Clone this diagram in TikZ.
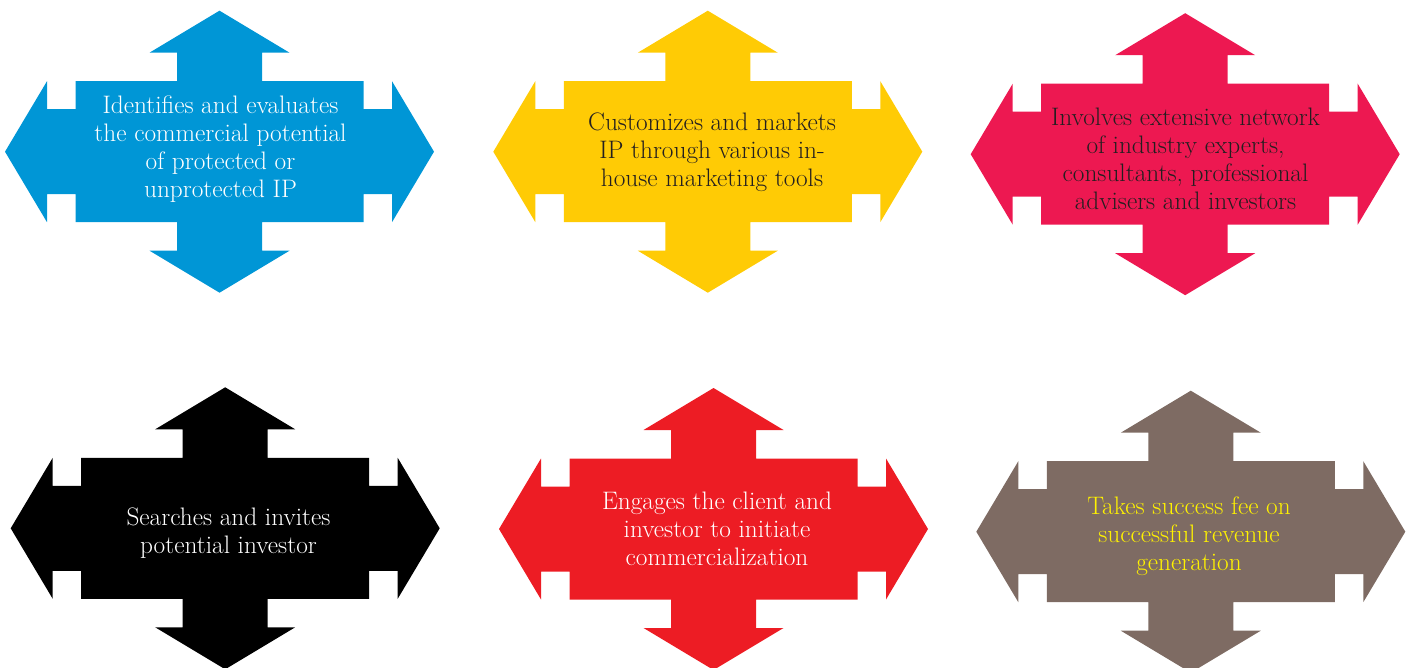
\documentclass[tikz,border=0pt]{standalone}
\usepackage{tikz}
\definecolor{cblue}{RGB}{0,150,214}
\definecolor{cyellow}{RGB}{255,203,5}
\definecolor{cpink}{RGB}{237,24,81}
\definecolor{cblack}{RGB}{0,0,0}
\definecolor{cred}{RGB}{237,28,36}
\definecolor{cbrown}{RGB}{126,107,99}
\definecolor{cdark}{RGB}{35,31,32}
\definecolor{ctxtyellow}{RGB}{255,242,0}
\newcommand{\qarrow}[3]{%
  \begin{scope}[shift={(#1,#2)}]
  \fill[#3] (0,-141) -- (70,-99) -- (42.5,-99) -- (42.5,-70.5) -- (144,-70.5)
    -- (144,-42.5) -- (172.5,-42.5) -- (172.5,-70.5) -- (214.5,0)
    -- (172.5,70.5) -- (172.5,42.5) -- (144,42.5) -- (144,70.5)
    -- (42.5,70.5) -- (42.5,99) -- (70,99) -- (0,141) -- (-70,99)
    -- (-42.5,99) -- (-42.5,70.5) -- (-144,70.5) -- (-144,42.5)
    -- (-172.5,42.5) -- (-172.5,70.5) -- (-214.5,0) -- (-172.5,-70.5)
    -- (-172.5,-42.5) -- (-144,-42.5) -- (-144,-70.5) -- (-42.5,-70.5)
    -- (-42.5,-99) -- (-70,-99) -- cycle;
  \end{scope}}
\begin{document}
\begin{tikzpicture}[x=1pt,y=-1pt,
  lbl/.style={align=center,inner sep=0pt,font=\fontsize{25.3}{28}\selectfont}]
\path[use as bounding box] (0,0) rectangle (1412,668);
\qarrow{219.5}{151.7}{cblue}
\qarrow{707.8}{151.7}{cyellow}
\qarrow{1185.2}{154.2}{cpink}
\qarrow{225.2}{528.3}{cblack}
\qarrow{713.5}{529}{cred}
\qarrow{1190.8}{531.7}{cbrown}
\node[lbl,text=white] (t1) at (220.5,149) {Identifies and evaluates\\the commercial potential\\of protected or\\unprotected IP};
\node[lbl,text=cdark] (t2) at (712,152) {Customizes and markets\\IP through various in-\\house marketing tools};
\node[lbl,text=cdark] (t3) at (1185.5,158.5) {Involves extensive network\\of industry experts,\\consultants, professional\\advisers and investors};
\node[lbl,text=white] (t4) at (228.5,533) {Searches and invites\\potential investor};
\node[lbl,text=white] (t5) at (717,529) {Engages the client and\\investor to initiate\\commercialization};
\node[lbl,text=ctxtyellow] (t6) at (1189,536.5) {Takes success fee on\\successful revenue\\generation};
\end{tikzpicture}
\end{document}
